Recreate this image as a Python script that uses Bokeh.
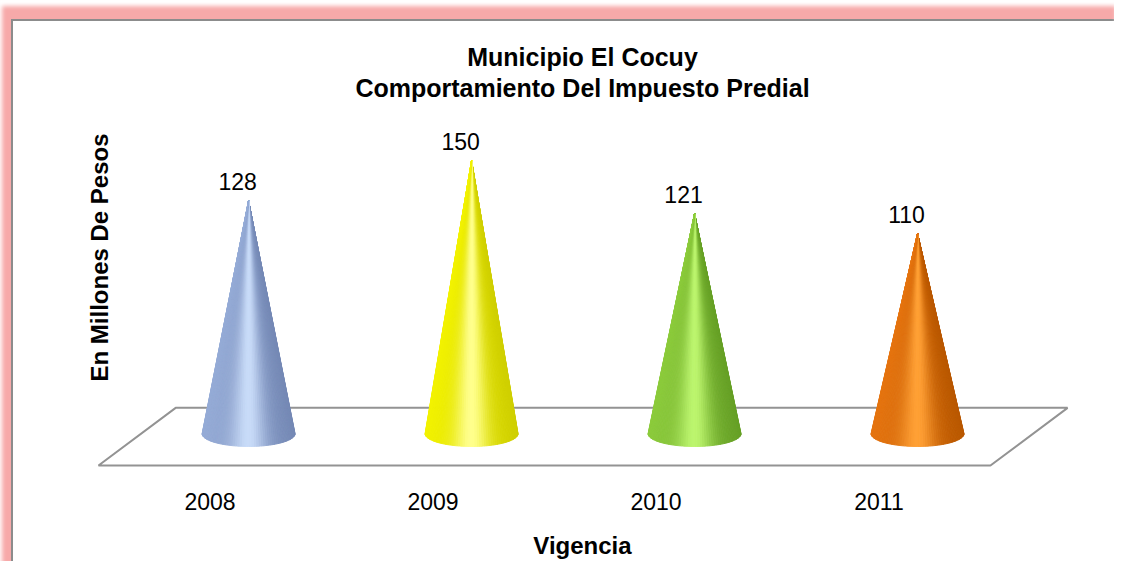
import math
from bokeh.plotting import figure
from bokeh.models import Range1d, FixedTicker, Title
from bokeh.embed import file_html
from bokeh.resources import INLINE
from bokeh.core.properties import value

# ---------------- data ----------------
years = ["2008", "2009", "2010", "2011"]
amounts = [128, 150, 121, 110]
title_lines = ["Municipio El Cocuy", "Comportamiento Del Impuesto Predial"]
y_title = "En Millones De Pesos"
x_title = "Vigencia"

# per-cone colours: (left edge, highlight, right edge)
cone_colors = [
    ("#95abd6", "#c8dbf8", "#7589b5"),
    ("#f2f200", "#ffff8c", "#cfcf00"),
    ("#8ccb3c", "#bcf56e", "#66a026"),
    ("#e57410", "#ffa035", "#b95800"),
]

FONT = "Liberation Sans"

# ------------- 3-D style constants -------------
DX = 0.173           # half depth shift (category units)
FLOOR_FRONT = -17.5  # value units
FLOOR_BACK = 14.2
R = 0.2085           # cone base half-width (category units)
RY = 7.0             # cone base ellipse half-height (value units)
N = 60


def hex2rgb(h):
    h = h.lstrip("#")
    return [int(h[k:k + 2], 16) for k in (0, 2, 4)]


def lerp(a, b, t):
    return [a[k] + (b[k] - a[k]) * t for k in range(3)]


def rgb2hex(c):
    return "#%02x%02x%02x" % tuple(int(round(max(0, min(255, v)))) for v in c)


def shade(cols, u):
    el, li, er = (hex2rgb(c) for c in cols)
    base = lerp(el, er, (u + 1) / 2)
    w = math.exp(-((u + 0.02) / 0.38) ** 2)
    return rgb2hex(lerp(base, li, w))


p = figure(
    width=1114, height=561,
    x_range=Range1d(-0.509, 3.850), y_range=Range1d(-25.7, 181.4),
    output_backend="svg", toolbar_location=None, y_axis_location=None,
    min_border_left=96, min_border_right=46, min_border_top=103, min_border_bottom=79,
    outline_line_color=None, background_fill_color="white", border_fill_color=None,
    styles={
        "box-shadow": ("inset 2px 6px 4px 0 #ffffff, inset 11px 19px 0 0 #f7a9a9, "
                       "inset 13px 21px 0 0 #8c8c8c"),
    },
)
p.grid.visible = False

# title: two centred lines (the later one sits closer to the plot)
p.title = Title(text=title_lines[0], align="center", text_font=FONT,
                text_font_size="25px", text_font_style="bold", text_color="black",
                standoff=0)
p.add_layout(Title(text=title_lines[1], align="center", text_font=FONT,
                   text_font_size="25px", text_font_style="bold", text_color="black",
                   standoff=3), "above")

# vertical title on the left
yt = Title(text=y_title, align="left", offset=99, standoff=-32, text_font=FONT,
           text_font_size="24px", text_font_style="bold", text_color="black")
p.add_layout(yt, "left")

# floor
n = len(years)
fx = [-0.5, n - 0.5, n - 0.5 + 2 * DX, -0.5 + 2 * DX]
fy = [FLOOR_FRONT, FLOOR_FRONT, FLOOR_BACK, FLOOR_BACK]
p.patch(fx, fy, fill_color="white", line_color="#939393", line_width=2)

# cones
xs, ys, cols = [], [], []
for i, v in enumerate(amounts):
    xc = i + DX
    for k in range(N):
        t0 = math.pi * k / N
        t1 = math.pi * (k + 1) / N
        xa, ya = xc + R * math.cos(t0), -RY * math.sin(t0)
        xb, yb = xc + R * math.cos(t1), -RY * math.sin(t1)
        xs.append([xc, xa, xb])
        ys.append([v, ya, yb])
        cols.append(shade(cone_colors[i], math.cos((t0 + t1) / 2)))
p.patches(xs, ys, fill_color=cols, line_color=cols, line_width=1)

# value labels
p.text(x=[i + DX for i in range(n)], y=amounts, text=[str(a) for a in amounts],
       x_offset=-11, y_offset=-19, text_align="center", text_baseline="alphabetic",
       text_font=value(FONT), text_font_size="23px", text_color="black")

# x axis
ax = p.xaxis[0]
ax.ticker = FixedTicker(ticks=list(range(n)))
ax.major_label_overrides = {i: y for i, y in enumerate(years)}
ax.axis_line_color = None
ax.major_tick_line_color = None
ax.minor_tick_line_color = None
ax.major_label_standoff = 6
ax.major_label_text_font = FONT
ax.major_label_text_font_size = "23px"
ax.major_label_text_color = "black"
ax.axis_label = x_title
ax.axis_label_standoff = 19
ax.axis_label_text_font = FONT
ax.axis_label_text_font_size = "24px"
ax.axis_label_text_font_style = "bold"
ax.axis_label_text_color = "black"

open("out.html", "w").write(file_html(p, INLINE))
